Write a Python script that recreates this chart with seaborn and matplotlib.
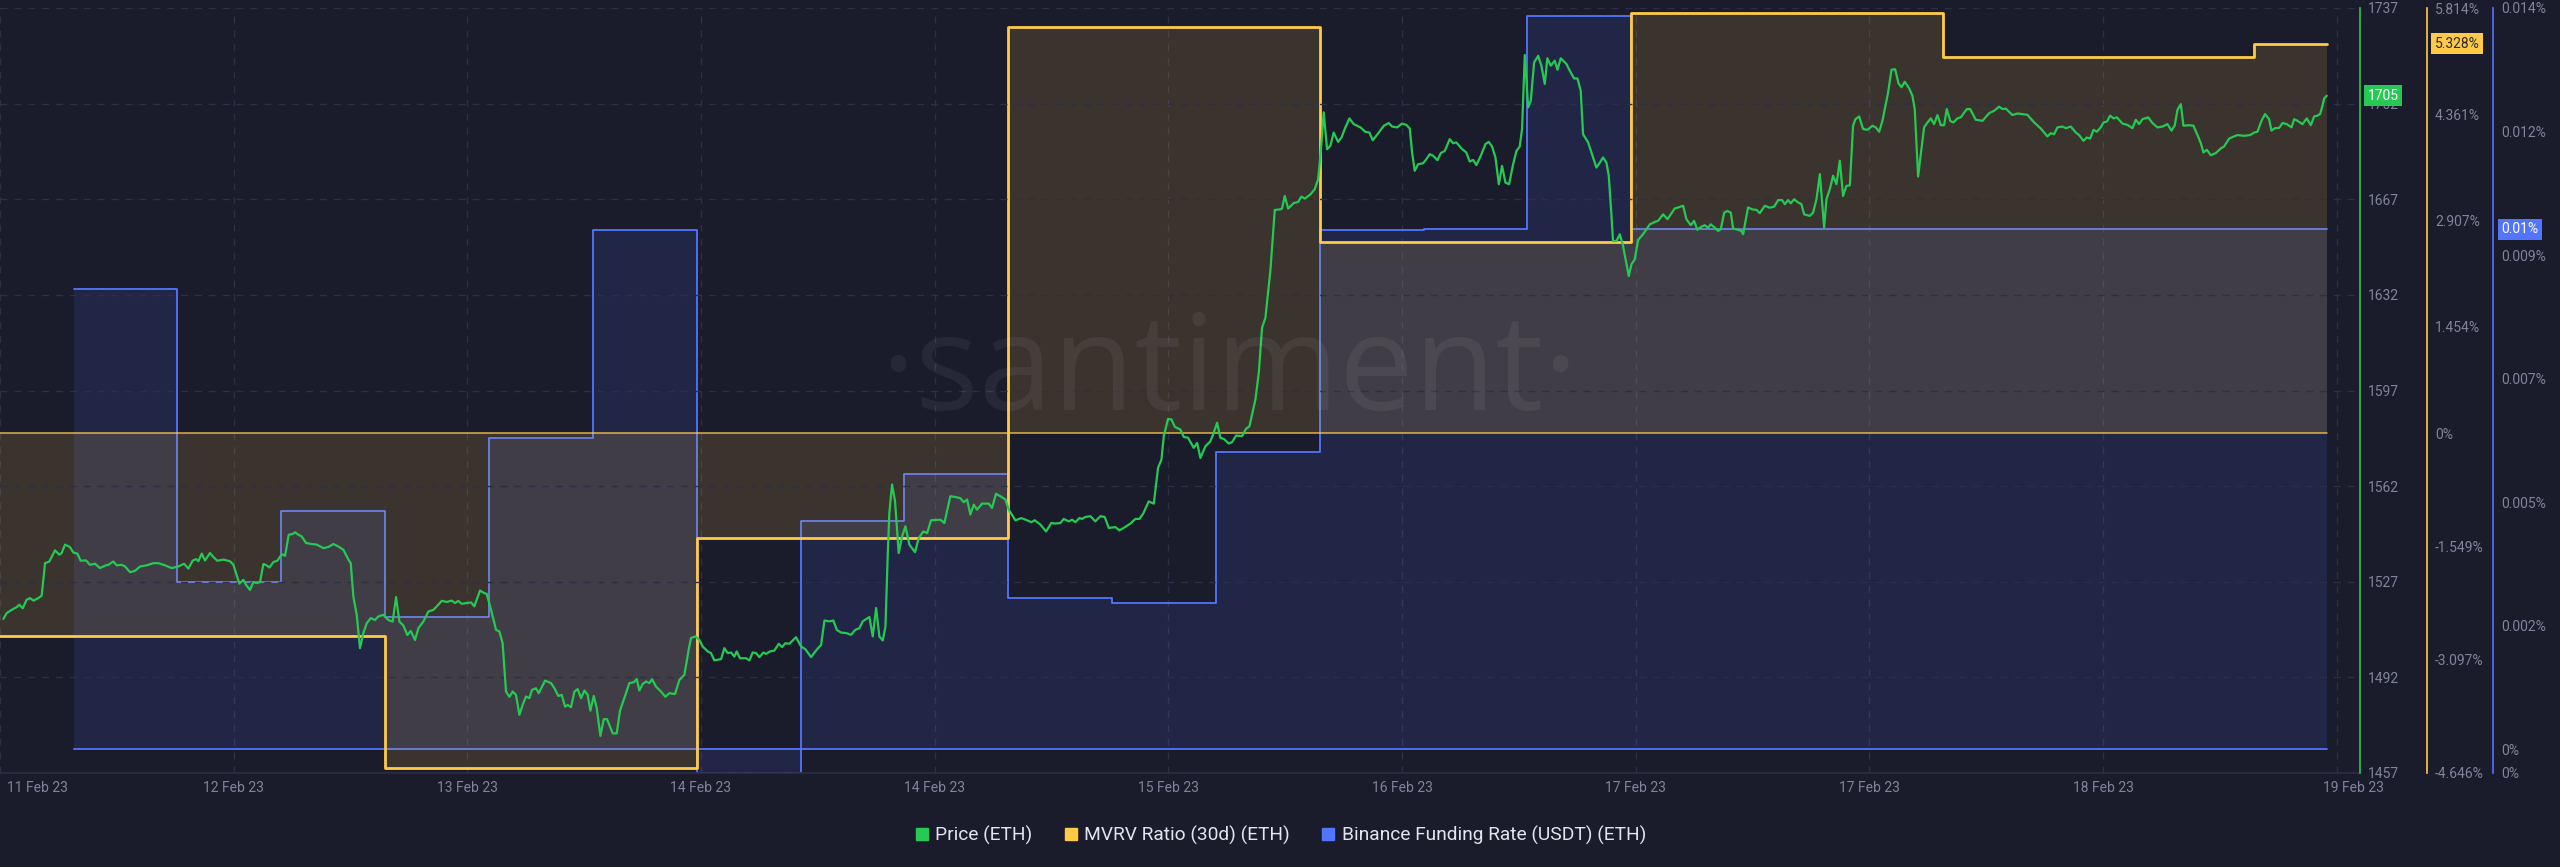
#!/usr/bin/env python3
"""
ETH: price vs MVRV (30d) vs Binance funding rate, Santiment style.
"""

import numpy as np
import pandas as pd
import matplotlib
matplotlib.use('Agg')
import matplotlib.pyplot as plt
import matplotlib.dates as mdates
import matplotlib.transforms as mtransforms
from matplotlib.lines import Line2D
import seaborn as sns

# ---- data ----
START = pd.Timestamp('2023-02-11 18:20')   # left edge of the chart
END = START + pd.Timedelta(hours=181.8)    # right edge (price axis)

# price, hours after START
price_hours = [
    0.26, 0.51, 0.90, 1.28, 1.49, 1.75, 2.05, 2.31, 2.57, 2.95,
    3.21, 3.47, 3.80, 4.24, 4.57, 4.75, 5.01, 5.39, 5.65, 5.96,
    6.21, 6.63, 6.93, 7.32, 7.70, 8.09, 8.35, 8.73, 8.99, 9.37,
    9.63, 10.02, 10.40, 10.79, 11.30, 11.81, 12.20, 12.71, 13.23, 13.74,
    14.18, 14.51, 14.84, 15.10, 15.28, 15.54, 15.79, 16.18, 16.44, 16.74,
    17.21, 17.72, 17.98, 18.44, 18.75, 18.95, 19.26, 19.52, 19.77, 20.03,
    20.29, 20.54, 20.75, 21.06, 21.37, 21.70, 21.96, 22.24, 22.55, 22.73,
    22.98, 23.24, 23.57, 24.01, 24.40, 24.91, 25.29, 25.68, 26.07, 26.45,
    26.84, 27.02, 27.22, 27.48, 27.73, 27.99, 28.25, 28.56, 28.89, 29.15,
    29.53, 29.92, 30.25, 30.51, 30.77, 31.07, 31.38, 31.64, 31.97, 32.23,
    32.61, 33.00, 33.38, 33.69, 34.03, 34.41, 34.80, 35.05, 35.31, 35.57,
    35.90, 36.29, 36.54, 36.98, 37.31, 37.49, 37.83, 38.21, 38.47, 38.72,
    38.98, 39.24, 39.50, 39.75, 40.01, 40.27, 40.52, 40.78, 40.98, 41.29,
    41.50, 41.99, 42.45, 42.71, 43.01, 43.27, 43.53, 43.73, 43.99, 44.25,
    44.50, 44.76, 45.02, 45.27, 45.48, 45.74, 45.97, 46.25, 46.51, 46.76,
    47.20, 47.51, 47.76, 48.18, 48.48, 48.82, 49.05, 49.25, 49.51, 49.77,
    50.02, 50.23, 50.54, 50.92, 51.26, 51.56, 52.00, 52.34, 52.72, 53.05,
    53.23, 53.57, 53.88, 54.13, 54.52, 54.77, 55.03, 55.55, 55.80, 56.06,
    56.32, 56.57, 56.75, 57.01, 57.47, 57.73, 57.98, 58.24, 58.50, 58.81,
    59.01, 59.32, 59.65, 59.99, 60.24, 60.50, 60.81, 61.32, 61.71, 62.04,
    62.48, 62.86, 63.25, 63.51, 63.89, 64.20, 64.46, 64.79, 65.18, 65.56,
    65.89, 66.20, 66.46, 66.97, 67.23, 67.49, 67.74, 68.00, 68.21, 68.39,
    68.51, 68.72, 68.95, 69.23, 69.49, 69.75, 70.05, 70.49, 70.77, 71.13,
    71.42, 71.72,
    72.44, 72.75, 73.21, 73.60, 73.98, 74.24, 74.50, 74.75, 75.01, 75.27,
    75.65, 76.17, 76.42, 76.73, 77.06, 77.45, 77.71, 78.22, 78.68, 79.12,
    79.45, 79.71, 80.15, 80.58, 80.99, 81.30, 81.69, 81.94, 82.33, 82.59,
    82.84, 83.15, 83.36, 83.61, 84.00, 84.38, 84.77, 85.10, 85.41, 85.92,
    86.23, 86.57, 87.08, 87.46, 87.77, 88.06, 88.49, 88.88, 89.21, 89.47,
    89.65, 89.98, 90.24, 90.50, 90.93, 91.19, 91.52, 91.96, 92.22, 92.47,
    92.86, 93.24, 93.42, 93.76, 94.01, 94.27, 94.66, 94.91, 95.22, 95.68,
    95.99, 96.25, 96.71, 96.97, 97.22, 97.48, 97.87, 98.20, 98.64, 98.76,
    98.97, 99.23, 99.66, 100.00, 100.25, 100.51, 100.95, 101.28, 101.54, 101.64,
    101.79, 101.97, 102.23, 102.49, 102.74, 103.08, 103.34, 103.64, 103.95, 104.28,
    104.80, 105.18, 105.49, 105.75, 106.21, 106.60, 106.98, 107.24, 107.62,
    108.01, 108.34, 108.60, 108.78, 108.98, 109.24, 109.63, 109.88, 110.14, 110.40,
    110.73, 110.99, 111.30, 111.68, 111.94, 112.19, 112.58, 112.96, 113.22, 113.48,
    113.73, 114.07, 114.43, 114.68, 114.94, 115.20, 115.46, 115.71, 115.97, 116.25,
    116.56, 116.82, 117.07, 117.25, 117.46, 117.72, 117.92, 118.18, 118.49, 118.74,
    119.00, 119.20, 119.46, 119.77, 119.98, 120.23, 120.67, 120.93, 121.26, 121.52,
    121.77, 121.95, 122.34, 122.72, 122.98, 123.24, 123.49, 123.75, 123.93, 124.14,
    124.26, 124.52, 124.78, 125.03, 125.47, 125.68, 125.93, 126.19, 126.57, 127.09,
    127.47, 127.73, 128.12, 128.45, 128.71, 129.01, 129.66, 129.91, 130.25, 130.50,
    130.76, 131.07, 131.33, 131.58, 131.79, 132.10, 132.35, 132.56, 132.82, 133.07,
    133.33, 133.51, 133.89, 134.15, 134.28, 134.66, 134.97, 135.31, 135.56, 135.95,
    136.33, 136.67, 136.98, 137.28, 137.49, 137.75, 137.95, 138.21, 138.52, 138.77,
    138.98, 139.41, 139.67, 139.93, 140.19, 140.52, 140.70, 140.96, 141.21, 141.47,
    141.73, 141.98, 142.24, 142.50, 142.75, 142.93, 143.22, 143.52,
    143.86, 144.24, 144.50, 144.76, 145.01, 145.45, 145.71, 145.99, 146.25, 146.48,
    146.73, 147.07, 147.32, 147.50, 147.76, 148.02, 148.22, 148.48, 148.74, 148.99,
    149.25, 149.51, 149.76, 149.97, 150.23, 150.48, 150.79, 151.05, 151.51, 151.77,
    152.20, 152.72, 153.23, 153.62, 154.00, 154.26, 154.51, 155.03, 155.41, 156.18,
    156.70, 157.21, 157.72, 157.98, 158.24, 158.49, 158.88, 159.14, 159.52, 159.91,
    160.16, 160.50, 160.75, 161.01, 161.27, 161.52, 161.83, 162.04, 162.30, 162.55,
    162.81, 163.07, 163.50, 163.89, 164.27, 164.53, 164.79, 165.04, 165.48, 165.81,
    166.20, 166.58, 166.97, 167.28, 167.53, 167.74, 168.00, 168.20, 168.64, 168.97,
    169.28, 169.54, 169.74, 170.00, 170.31, 170.69, 171.08, 171.33, 171.72, 172.10,
    172.36, 172.88, 173.34, 173.65, 173.90, 174.21, 174.49, 174.80, 174.98, 175.24,
    175.57, 175.83, 176.16, 176.52, 176.73, 176.98, 177.37, 177.70, 178.01, 178.27,
    178.52, 178.73, 178.91, 179.04, 179.24,
]
price_values = [
    1513.4, 1515.5, 1516.7, 1517.7, 1518.6, 1517.3, 1520.4, 1521.0, 1520.1, 1521.0,
    1521.9, 1533.8, 1534.4, 1538.5, 1536.9, 1537.5, 1540.6, 1539.7, 1537.7, 1537.3,
    1534.7, 1534.8, 1533.2, 1533.6, 1532.0, 1532.9, 1533.2, 1534.4, 1533.0, 1533.2,
    1532.6, 1530.5, 1531.0, 1532.6, 1533.0, 1533.8, 1533.8, 1533.0, 1532.0, 1532.6,
    1533.6, 1531.8, 1534.7, 1535.3, 1534.5, 1537.3, 1534.8, 1537.5, 1536.0, 1534.7,
    1535.1, 1534.5, 1533.2, 1526.3, 1527.7, 1525.9, 1524.0, 1526.9, 1526.5, 1526.9,
    1533.5, 1533.0, 1532.2, 1534.2, 1534.7, 1537.1, 1536.5, 1544.2, 1544.5, 1545.1,
    1544.2, 1543.6, 1541.2, 1540.8, 1540.6, 1539.3, 1539.7, 1540.8, 1539.9, 1538.7,
    1535.1, 1533.8, 1521.6, 1514.9, 1502.7, 1508.2, 1511.8, 1513.7, 1513.0, 1514.3,
    1514.9, 1513.0, 1512.4, 1521.4, 1512.4, 1511.0, 1507.5, 1509.0, 1505.7, 1510.0,
    1512.4, 1516.1, 1516.7, 1518.2, 1520.0, 1519.6, 1520.1, 1519.2, 1520.0, 1518.9,
    1519.2, 1519.4, 1518.0, 1523.8, 1522.8, 1522.6, 1516.7, 1509.4, 1508.8, 1504.5,
    1486.8, 1484.9, 1486.8, 1485.6, 1478.3, 1482.0, 1485.0, 1484.4, 1487.4, 1488.0,
    1486.2, 1490.8, 1489.9, 1488.0, 1485.2, 1485.6, 1481.3, 1481.9, 1481.1, 1486.8,
    1487.7, 1484.4, 1487.2, 1485.6, 1479.8, 1485.2, 1480.7, 1470.6, 1476.7, 1476.7,
    1471.5, 1471.5, 1479.8, 1485.6, 1489.9, 1490.2, 1491.4, 1487.2, 1489.6, 1490.5,
    1489.9, 1491.3, 1488.6, 1486.8, 1484.9, 1486.2, 1485.9, 1491.1, 1492.9, 1502.1,
    1506.4, 1507.0, 1505.7, 1503.3, 1501.5, 1500.9, 1498.2, 1498.7, 1502.7, 1500.9,
    1501.1, 1499.6, 1501.5, 1499.0, 1499.0, 1498.2, 1501.1, 1500.9, 1499.4, 1501.1,
    1500.6, 1501.5, 1501.8, 1504.3, 1503.1, 1504.5, 1504.3, 1506.7, 1503.3, 1502.3,
    1499.4, 1501.8, 1503.9, 1512.8, 1512.5, 1512.8, 1509.4, 1508.4, 1508.2, 1507.6,
    1509.4, 1510.0, 1512.5, 1514.1, 1507.0, 1517.4, 1507.0, 1505.5, 1510.6, 1537.5,
    1552.2, 1562.6, 1556.4, 1537.5, 1543.6, 1547.3, 1540.6, 1537.8, 1543.0, 1545.4,
    1544.8, 1549.5,
    1549.7, 1548.5, 1558.3, 1558.0, 1557.6, 1556.1, 1557.1, 1551.6, 1555.2, 1553.4,
    1555.6, 1555.6, 1554.0, 1559.2, 1558.3, 1557.1, 1553.4, 1549.5, 1550.3, 1549.5,
    1548.8, 1549.5, 1547.9, 1545.4, 1548.5, 1548.3, 1548.5, 1550.0, 1549.1, 1549.7,
    1548.8, 1550.3, 1550.0, 1550.7, 1551.0, 1549.1, 1551.0, 1550.7, 1546.7, 1547.0,
    1545.8, 1546.7, 1548.3, 1550.0, 1550.0, 1551.9, 1556.4, 1555.6, 1568.7, 1571.7,
    1580.3, 1586.6, 1586.4, 1583.7, 1582.7, 1580.0, 1579.7, 1576.0, 1577.8, 1572.3,
    1576.6, 1578.4, 1580.5, 1585.2, 1579.7, 1579.3, 1577.6, 1578.1, 1580.5, 1580.3,
    1583.0, 1583.9, 1593.7, 1603.5, 1620.0, 1623.6, 1641.3, 1663.1, 1663.3, 1663.6,
    1668.2, 1663.6, 1665.6, 1666.0, 1668.0, 1667.2, 1668.8, 1670.7, 1674.3, 1679.2,
    1687.2, 1698.8, 1685.3, 1686.6, 1691.4, 1688.0, 1689.6, 1693.3, 1696.6, 1694.5,
    1693.3, 1691.7, 1691.4, 1688.6, 1691.4, 1693.9, 1694.9, 1693.6, 1693.3,
    1694.7, 1694.2, 1692.9, 1684.1, 1677.4, 1679.8, 1680.2, 1681.7, 1683.5, 1682.9,
    1681.3, 1683.9, 1684.7, 1689.0, 1687.5, 1687.8, 1685.6, 1684.1, 1680.8, 1681.4,
    1679.5, 1682.9, 1687.2, 1688.0, 1686.3, 1682.3, 1672.5, 1679.2, 1673.1, 1672.5,
    1679.8, 1684.7, 1686.3, 1692.7, 1719.8, 1700.6, 1703.0, 1717.1, 1719.5, 1715.9,
    1709.2, 1718.6, 1715.9, 1717.7, 1714.4, 1718.6, 1716.5, 1714.0, 1711.2, 1711.2,
    1706.7, 1690.8, 1687.8, 1682.3, 1678.6, 1680.4, 1682.3, 1680.4, 1675.6, 1660.9,
    1651.7, 1651.7, 1654.2, 1649.9, 1638.9, 1643.2, 1645.0, 1652.1, 1654.2, 1657.8,
    1658.7, 1659.1, 1661.5, 1659.7, 1661.5, 1663.6, 1664.6, 1659.7, 1657.5, 1659.1,
    1655.8, 1657.0, 1657.5, 1656.6, 1657.8, 1656.6, 1655.4, 1656.0, 1662.1, 1662.7,
    1662.1, 1656.3, 1655.8, 1655.4, 1654.2, 1664.0, 1663.3, 1663.1, 1661.9, 1664.6,
    1663.9, 1664.3, 1666.7, 1666.7, 1665.2, 1666.7, 1665.5, 1667.0, 1665.8, 1665.2,
    1661.5, 1660.9, 1662.1, 1667.0, 1676.2, 1656.6, 1667.0, 1670.7, 1675.6, 1672.5,
    1681.1, 1668.2, 1671.9, 1672.1, 1693.9, 1696.3, 1697.3, 1692.7,
    1692.4, 1693.9, 1693.3, 1691.7, 1695.7, 1706.1, 1714.4, 1714.6, 1709.4, 1708.0,
    1710.0, 1707.6, 1704.9, 1700.0, 1675.3, 1685.3, 1693.3, 1695.1, 1696.6, 1694.5,
    1697.8, 1694.1, 1694.1, 1700.0, 1695.7, 1695.1, 1696.6, 1697.0, 1700.0, 1700.0,
    1696.1, 1695.7, 1698.5, 1699.4, 1700.9, 1700.0, 1700.2, 1697.8, 1698.4, 1697.9,
    1695.1, 1692.9, 1690.0, 1691.2, 1690.8, 1693.3, 1693.6, 1693.0, 1693.6, 1691.4,
    1690.5, 1688.4, 1689.6, 1689.2, 1692.4, 1691.7, 1693.3, 1695.1, 1695.4, 1697.6,
    1696.6, 1697.0, 1694.7, 1694.2, 1693.0, 1696.1, 1694.5, 1696.3, 1697.0, 1694.9,
    1693.3, 1693.6, 1694.5, 1692.1, 1694.1, 1699.7, 1701.8, 1693.9, 1694.1, 1693.9,
    1690.5, 1687.5, 1684.1, 1685.1, 1683.1, 1683.9, 1685.6, 1686.3, 1689.2, 1690.0,
    1690.5, 1690.2, 1690.5, 1691.4, 1691.7, 1695.7, 1698.2, 1696.3, 1692.1, 1693.0,
    1693.1, 1694.9, 1694.5, 1693.3, 1696.3, 1695.7, 1694.5, 1696.6, 1694.1, 1697.3,
    1697.6, 1698.2, 1701.2, 1703.9, 1704.9,
]
assert len(price_hours) == len(price_values)

# MVRV ratio (30d), daily, in %
mvrv_dates = ['2023-02-11', '2023-02-12', '2023-02-13', '2023-02-14', '2023-02-15',
              '2023-02-16', '2023-02-17', '2023-02-18', '2023-02-19']
mvrv_values = [-2.77, -2.77, -4.58, -1.43, 5.56, 2.62, 5.74, 5.14, 5.328]

# Binance funding rate (USDT), every 8h, in %
funding_times = pd.date_range('2023-02-12 00:00', '2023-02-19 00:00', freq='8h')
funding_values = [
    0.00869, 0.00316, 0.00449,
    0.00250, 0.00587, 0.00981,
    -0.00045, 0.00431, 0.00520,
    0.00285, 0.00277, 0.00561,
    0.00981, 0.00982, 0.01385,
    0.00982, 0.00982, 0.00982,
    0.00982, 0.00982, 0.00982,
    0.00982,
]

price_ticks = [1457, 1492, 1527, 1562, 1597, 1632, 1667, 1702, 1737]
mvrv_ticks = [-4.646, -3.097, -1.549, 0, 1.454, 2.907, 4.361, 5.814]
funding_ticks = [-0.00045, 0.0, 0.014 / 6, 0.028 / 6, 0.007, 0.056 / 6, 0.070 / 6, 0.014]

# ---- style ----
BG = '#1a1b2b'
GREEN = '#26c953'
YELLOW = '#ffcb47'
BLUE = '#5275ff'
GRID = '#2c2f45'
TICK = '#80859b'
TXT = '#e3e5ee'
W, H = 2560, 867

sns.set_theme(style='dark')
plt.rcParams['font.family'] = ['Roboto', 'DejaVu Sans']


def pct(v, nd=3):
    s = f'{0.0 if abs(v) < 5 * 10 ** -(nd + 1) else v:.{nd}f}'.rstrip('0').rstrip('.')
    return s + '%'


def main():
    df_price = pd.DataFrame({'time': START + pd.to_timedelta(price_hours, unit='h'),
                             'price': price_values})
    t_end = df_price['time'].iloc[-1]

    # step series, last value carried to the end of the data
    df_mvrv = pd.DataFrame({'time': pd.to_datetime(list(mvrv_dates) + [t_end]),
                            'mvrv': mvrv_values + [mvrv_values[-1]]})
    df_fund = pd.DataFrame({'time': list(funding_times) + [t_end],
                            'rate': funding_values + [funding_values[-1]]})

    fig = plt.figure(figsize=(W / 100, H / 100), dpi=100, facecolor=BG)
    ax_fund = fig.add_axes([0, 1 - 773 / H, 2360 / W, (773 - 8) / H])
    ax_mvrv = ax_fund.twinx()
    ax_price = ax_fund.twinx()
    ax_fund.yaxis.tick_right()
    ax_fund.set_facecolor(BG)
    for a in (ax_mvrv, ax_price):
        a.patch.set_visible(False)

    # funding rate
    ax_fund.fill_between(df_fund['time'], df_fund['rate'], 0, step='post',
                         color=BLUE, alpha=0.13, lw=0)
    sns.lineplot(data=df_fund, x='time', y='rate', ax=ax_fund, color=BLUE, lw=1.3,
                 drawstyle='steps-post', estimator=None)
    ax_fund.plot([df_fund['time'].iloc[0], t_end], [0, 0], color=BLUE, lw=1.3)

    # MVRV
    ax_mvrv.fill_between(df_mvrv['time'], df_mvrv['mvrv'], 0, step='post',
                         color=YELLOW, alpha=0.14, lw=0)
    sns.lineplot(data=df_mvrv, x='time', y='mvrv', ax=ax_mvrv, color=YELLOW, lw=2,
                 drawstyle='steps-post', estimator=None)
    ax_mvrv.plot([df_mvrv['time'].iloc[0], t_end], [0, 0], color=YELLOW, lw=1.1, alpha=0.85)

    # price
    sns.lineplot(data=df_price, x='time', y='price', ax=ax_price, color=GREEN, lw=1.6,
                 estimator=None, sort=False)

    # axes
    for a in (ax_fund, ax_mvrv, ax_price):
        a.set_xlim(START, END)
        a.set_xlabel('')
        a.set_ylabel('')
        for s in a.spines.values():
            s.set_visible(False)
        a.tick_params(axis='y', length=0, pad=6, labelsize=10, labelcolor=TICK)

    ax_price.set_ylim(1457, 1737)
    ax_price.set_yticks(price_ticks)
    ax_price.set_yticklabels([str(v) for v in price_ticks])

    ax_mvrv.set_ylim(-4.646, 5.814)
    ax_mvrv.set_yticks(mvrv_ticks)
    ax_mvrv.set_yticklabels([pct(v) for v in mvrv_ticks])

    ax_fund.set_ylim(-0.00045, 0.014)
    ax_fund.set_yticks(funding_ticks)
    ax_fund.set_yticklabels([pct(v) for v in funding_ticks])

    sp = ax_price.spines['right']
    sp.set_visible(True); sp.set_color(GREEN); sp.set_linewidth(1.2)
    sp = ax_mvrv.spines['right']
    sp.set_visible(True); sp.set_color(YELLOW); sp.set_linewidth(1.2)
    sp.set_position(('axes', 2426.7 / 2360))
    sp = ax_fund.spines['right']
    sp.set_visible(True); sp.set_color(BLUE); sp.set_linewidth(1.2)
    sp.set_position(('axes', 2493.3 / 2360))
    sp = ax_fund.spines['bottom']
    sp.set_visible(True); sp.set_color('#2b2e42'); sp.set_linewidth(1.2)

    # grid
    ax_price.yaxis.grid(True, color=GRID, ls=(0, (5, 5)), lw=1)
    ax_fund.xaxis.grid(True, color=GRID, ls=(0, (5, 5)), lw=1)

    # x ticks every 18h
    tick_times = [START + pd.Timedelta(hours=18 * k) for k in range(11)]
    ax_fund.set_xticks(tick_times)
    ax_fund.xaxis.set_major_formatter(mdates.DateFormatter('%d %b %y'))
    ax_fund.tick_params(axis='x', length=0, pad=6, labelsize=10, labelcolor=TICK)
    labels = ax_fund.get_xticklabels()
    labels[0].set_horizontalalignment('left')
    labels[0].set_transform(labels[0].get_transform()
                            + mtransforms.ScaledTranslation(0.07, 0, fig.dpi_scale_trans))
    labels[-1].set_transform(labels[-1].get_transform()
                             + mtransforms.ScaledTranslation(0.17, 0, fig.dpi_scale_trans))

    # last-value badges
    def badge(ax, x_px, y, text, fc, tc):
        tr = mtransforms.blended_transform_factory(fig.transFigure, ax.transData)
        ax.text(x_px / W, y, text, transform=tr, ha='left', va='center', fontsize=10,
                color=tc, clip_on=False, zorder=10,
                bbox=dict(boxstyle='square,pad=0.25', fc=fc, ec='none'))

    badge(ax_price, 2367.5, price_values[-1], f'{price_values[-1]:.0f}', GREEN, 'white')
    badge(ax_mvrv, 2434.5, mvrv_values[-1], f'{mvrv_values[-1]:.3f}%', YELLOW, '#2a2a33')
    badge(ax_fund, 2501.5, funding_values[-1], f'{funding_values[-1]:.2f}%', BLUE, 'white')

    # watermark
    fig.text(1229 / W, 1 - 375 / H, '\u00b7santiment\u00b7', fontsize=96,
             family=['Open Sans', 'DejaVu Sans'], color='white', alpha=0.06,
             ha='center', va='center')

    # legend
    handles = [Line2D([], [], ls='none', marker='s', ms=9, color=c) for c in (GREEN, YELLOW, BLUE)]
    fig.legend(handles, ['Price (ETH)', 'MVRV Ratio (30d) (ETH)', 'Binance Funding Rate (USDT) (ETH)'],
               loc='center', bbox_to_anchor=(0.5, 1 - 835 / H), ncol=3, frameon=False,
               fontsize=13.8, labelcolor=TXT, handletextpad=0.3, columnspacing=1.6,
               handlelength=0.8)

    fig.savefig('out.png', dpi=100, facecolor=BG)
    plt.close(fig)


if __name__ == '__main__':
    main()
